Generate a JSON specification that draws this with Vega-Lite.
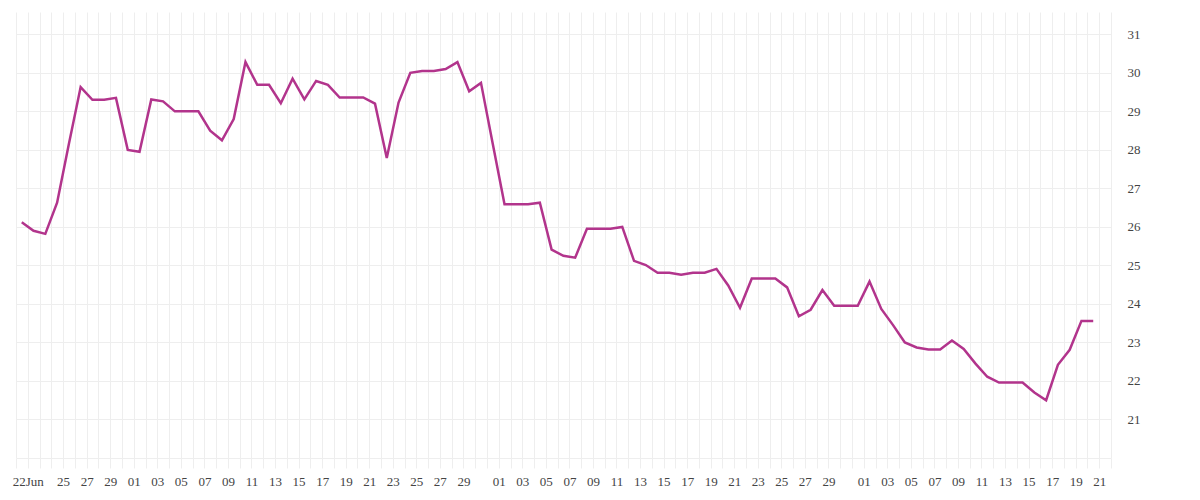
{
  "$schema": "https://vega.github.io/schema/vega-lite/v6.json",
  "autosize": {"type": "none"},
  "padding": {"left": 16, "top": 12, "right": 89, "bottom": 42},
  "width": 1095,
  "height": 446,
  "background": "white",
  "config": {
    "view": {"stroke": null},
    "axis": {
      "labelFont": "Liberation Serif",
      "labelFontSize": 13,
      "labelColor": "#444444",
      "gridColor": "#eeeeee",
      "gridWidth": 1,
      "domain": false
    }
  },
  "data": {
    "values": [
      {"date": "2020-06-22", "value": 26.12},
      {"date": "2020-06-23", "value": 25.9},
      {"date": "2020-06-24", "value": 25.82},
      {"date": "2020-06-25", "value": 26.63},
      {"date": "2020-06-26", "value": 28.15},
      {"date": "2020-06-27", "value": 29.63},
      {"date": "2020-06-28", "value": 29.3},
      {"date": "2020-06-29", "value": 29.3},
      {"date": "2020-06-30", "value": 29.35},
      {"date": "2020-07-01", "value": 28.0},
      {"date": "2020-07-02", "value": 27.95},
      {"date": "2020-07-03", "value": 29.31},
      {"date": "2020-07-04", "value": 29.26},
      {"date": "2020-07-05", "value": 29.0},
      {"date": "2020-07-06", "value": 29.0},
      {"date": "2020-07-07", "value": 29.0},
      {"date": "2020-07-08", "value": 28.5},
      {"date": "2020-07-09", "value": 28.25},
      {"date": "2020-07-10", "value": 28.8},
      {"date": "2020-07-11", "value": 30.28},
      {"date": "2020-07-12", "value": 29.69},
      {"date": "2020-07-13", "value": 29.69},
      {"date": "2020-07-14", "value": 29.21},
      {"date": "2020-07-15", "value": 29.85},
      {"date": "2020-07-16", "value": 29.31},
      {"date": "2020-07-17", "value": 29.79},
      {"date": "2020-07-18", "value": 29.69},
      {"date": "2020-07-19", "value": 29.36},
      {"date": "2020-07-20", "value": 29.36},
      {"date": "2020-07-21", "value": 29.36},
      {"date": "2020-07-22", "value": 29.2},
      {"date": "2020-07-23", "value": 27.79},
      {"date": "2020-07-24", "value": 29.23},
      {"date": "2020-07-25", "value": 30.0},
      {"date": "2020-07-26", "value": 30.05},
      {"date": "2020-07-27", "value": 30.05},
      {"date": "2020-07-28", "value": 30.1},
      {"date": "2020-07-29", "value": 30.28},
      {"date": "2020-07-30", "value": 29.52},
      {"date": "2020-07-31", "value": 29.74},
      {"date": "2020-08-01", "value": 28.16},
      {"date": "2020-08-02", "value": 26.59},
      {"date": "2020-08-03", "value": 26.59},
      {"date": "2020-08-04", "value": 26.59},
      {"date": "2020-08-05", "value": 26.63},
      {"date": "2020-08-06", "value": 25.41},
      {"date": "2020-08-07", "value": 25.25},
      {"date": "2020-08-08", "value": 25.2},
      {"date": "2020-08-09", "value": 25.95},
      {"date": "2020-08-10", "value": 25.95},
      {"date": "2020-08-11", "value": 25.95},
      {"date": "2020-08-12", "value": 26.0},
      {"date": "2020-08-13", "value": 25.12},
      {"date": "2020-08-14", "value": 25.01},
      {"date": "2020-08-15", "value": 24.81},
      {"date": "2020-08-16", "value": 24.81},
      {"date": "2020-08-17", "value": 24.76},
      {"date": "2020-08-18", "value": 24.81},
      {"date": "2020-08-19", "value": 24.81},
      {"date": "2020-08-20", "value": 24.91},
      {"date": "2020-08-21", "value": 24.48},
      {"date": "2020-08-22", "value": 23.9},
      {"date": "2020-08-23", "value": 24.66},
      {"date": "2020-08-24", "value": 24.66},
      {"date": "2020-08-25", "value": 24.66},
      {"date": "2020-08-26", "value": 24.43},
      {"date": "2020-08-27", "value": 23.68},
      {"date": "2020-08-28", "value": 23.85},
      {"date": "2020-08-29", "value": 24.36},
      {"date": "2020-08-30", "value": 23.95},
      {"date": "2020-08-31", "value": 23.95},
      {"date": "2020-09-01", "value": 23.95},
      {"date": "2020-09-02", "value": 24.58},
      {"date": "2020-09-03", "value": 23.87},
      {"date": "2020-09-04", "value": 23.45},
      {"date": "2020-09-05", "value": 23.0},
      {"date": "2020-09-06", "value": 22.87},
      {"date": "2020-09-07", "value": 22.82},
      {"date": "2020-09-08", "value": 22.82},
      {"date": "2020-09-09", "value": 23.05},
      {"date": "2020-09-10", "value": 22.83},
      {"date": "2020-09-11", "value": 22.45},
      {"date": "2020-09-12", "value": 22.11},
      {"date": "2020-09-13", "value": 21.96},
      {"date": "2020-09-14", "value": 21.96},
      {"date": "2020-09-15", "value": 21.96},
      {"date": "2020-09-16", "value": 21.7},
      {"date": "2020-09-17", "value": 21.5},
      {"date": "2020-09-18", "value": 22.42},
      {"date": "2020-09-19", "value": 22.81},
      {"date": "2020-09-20", "value": 23.56},
      {"date": "2020-09-21", "value": 23.56}
    ]
  },
  "mark": {
    "type": "line",
    "color": "#b2348c",
    "strokeWidth": 2.5,
    "xOffset": -6
  },
  "encoding": {
    "x": {
      "field": "date",
      "type": "temporal",
      "title": null,
      "scale": {
        "type": "utc",
        "domain": [
          {"year": 2020, "month": 6, "date": 21, "utc": true},
          {"year": 2020, "month": 9, "date": 22, "utc": true}
        ],
        "nice": false
      },
      "axis": {
        "tickCount": {"interval": "day", "step": 1},
        "ticks": true,
        "tickSize": 10,
        "tickColor": "#eeeeee",
        "labelPadding": 7,
        "labelOverlap": false,
        "labelFlush": false,
        "labelBound": false,
        "labelExpr": "utcmonth(datum.value) == 5 && utcdate(datum.value) == 22 ? '22Jun' : ((utcmonth(datum.value) == 5 && utcdate(datum.value) < 25) || utcdate(datum.value) % 2 == 0 || utcdate(datum.value) == 31 ? '' : utcFormat(datum.value, '%d'))"
      }
    },
    "y": {
      "field": "value",
      "type": "quantitative",
      "title": null,
      "scale": {"domain": [20, 31.58], "nice": false, "zero": false},
      "axis": {
        "orient": "right",
        "values": [20, 21, 22, 23, 24, 25, 26, 27, 28, 29, 30, 31],
        "ticks": false,
        "labelPadding": 16,
        "labelAlign": "left",
        "labelExpr": "datum.value == 20 ? '' : datum.label"
      }
    }
  }
}
